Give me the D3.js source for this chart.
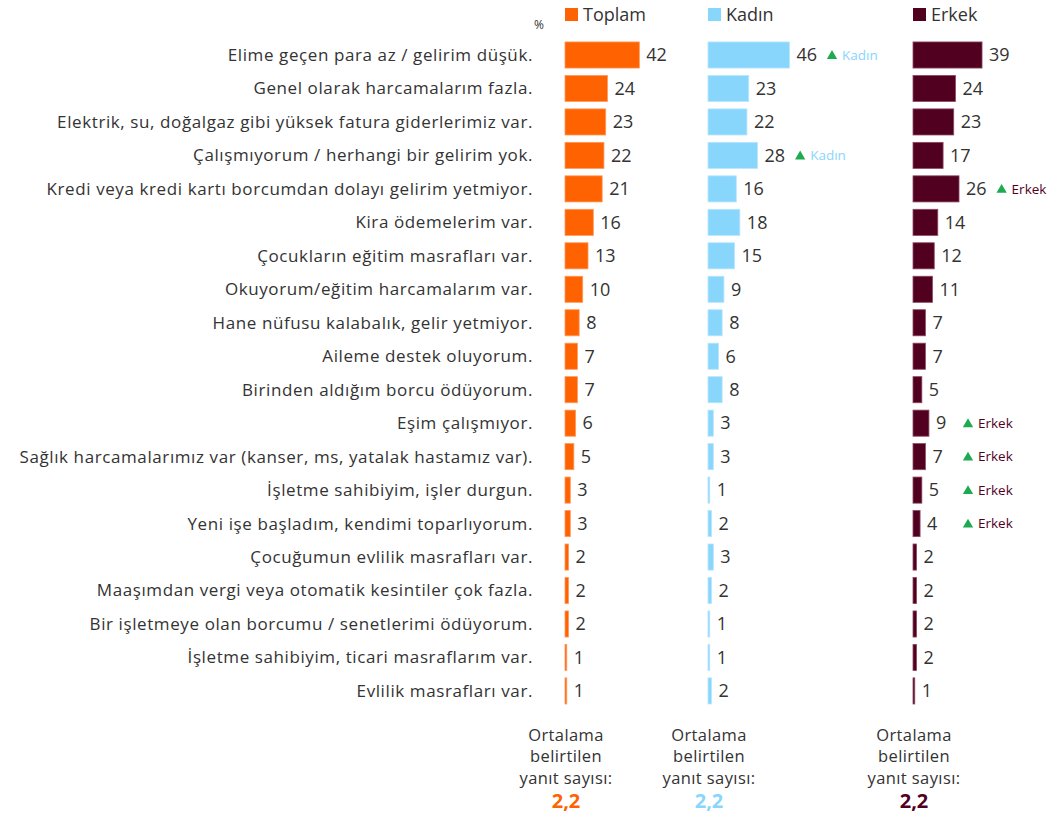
<!DOCTYPE html>
<html>
<head>
<meta charset="utf-8">
<script src="https://cdn.jsdelivr.net/npm/d3@7"></script>
<style>
  html, body { margin: 0; padding: 0; background: #fff; }
  svg { display: block; }
  text { font-family: "Open Sans", "Noto Sans", sans-serif; fill: #333; }
</style>
</head>
<body>
<svg id="chart" width="1059" height="816"></svg>
<script>
const categories = [
  "Elime geçen para az / gelirim düşük.",
  "Genel olarak harcamalarım fazla.",
  "Elektrik, su, doğalgaz gibi yüksek fatura giderlerimiz var.",
  "Çalışmıyorum / herhangi bir gelirim yok.",
  "Kredi veya kredi kartı borcumdan dolayı gelirim yetmiyor.",
  "Kira ödemelerim var.",
  "Çocukların eğitim masrafları var.",
  "Okuyorum/eğitim harcamalarım var.",
  "Hane nüfusu kalabalık, gelir yetmiyor.",
  "Aileme destek oluyorum.",
  "Birinden aldığım borcu ödüyorum.",
  "Eşim çalışmıyor.",
  "Sağlık harcamalarımız var (kanser, ms, yatalak hastamız var).",
  "İşletme sahibiyim, işler durgun.",
  "Yeni işe başladım, kendimi toparlıyorum.",
  "Çocuğumun evlilik masrafları var.",
  "Maaşımdan vergi veya otomatik kesintiler çok fazla.",
  "Bir işletmeye olan borcumu / senetlerimi ödüyorum.",
  "İşletme sahibiyim, ticari masraflarım var.",
  "Evlilik masrafları var."
];
const seriesNames = ["Toplam", "Kadın", "Erkek"];
const toplam = [42,24,23,22,21,16,13,10,8,7,7,6,5,3,3,2,2,2,1,1];
const kadin  = [46,23,22,28,16,18,15,9,8,6,8,3,3,1,2,3,2,1,1,2];
const erkek  = [39,24,23,17,26,14,12,11,7,7,5,9,7,5,4,2,2,2,2,1];
// significance flags: index of category flagged per series
const kadinFlags = [0, 3];
const erkekFlags = [4, 11, 12, 13, 14];
const averages = ["2,2", "2,2", "2,2"];
const footerLines = ["Ortalama", "belirtilen", "yanıt sayısı:"];
const unitLabel = "%";

const colors = ["#FF6200", "#89D6FD", "#52001F"];
const strokes = ["#FF9A5C", "#B8E6FE", "#8A4A62"];
const annotColors = ["#FF6200", "#89D6FD", "#52001F"];
const triColor = "#1EAA50";

const svg = d3.select("#chart");
const step = 33.47;
const y = d3.scaleBand()
  .domain(categories)
  .range([55 - step/2, 55 - step/2 + step*categories.length])
  .paddingInner(0.22).paddingOuter(0.11);

const colStarts = [565, 708, 913];
const pxPerUnit = 1.77;
const xScales = colStarts.map(s => d3.scaleLinear().domain([0, 50]).range([s, s + 50*pxPerUnit]));
const data = [toplam, kadin, erkek];
const flags = [[], kadinFlags, erkekFlags];

// category labels
svg.append("g").selectAll("text").data(categories).join("text")
  .attr("x", 533)
  .attr("y", d => y(d) + y.bandwidth()/2)
  .attr("dy", "0.35em")
  .attr("text-anchor", "end")
  .style("font-size", "17px")
  .style("letter-spacing", "0.6px")
  .text(d => d);

// % unit label
svg.append("text").attr("x", 539).attr("y", 29).attr("text-anchor", "middle")
  .style("font-size", "12px").text(unitLabel);

seriesNames.forEach((name, si) => {
  const x = xScales[si];
  const g = svg.append("g");
  // legend
  g.append("rect").attr("x", x(0)).attr("y", 8).attr("width", 13).attr("height", 13)
    .attr("fill", colors[si]);
  g.append("text").attr("x", x(0) + 18).attr("y", 15).attr("dy", "0.35em")
    .style("font-size", "18px").text(name);

  const vals = data[si];
  // bars
  g.selectAll("rect.bar").data(vals).join("rect")
    .attr("class", "bar")
    .attr("x", x(0))
    .attr("y", (d, i) => y(categories[i]))
    .attr("width", d => x(d) - x(0))
    .attr("height", y.bandwidth())
    .attr("fill", colors[si])
    .attr("stroke", strokes[si])
    .attr("stroke-width", 0.8);
  // values
  const labels = g.selectAll("text.val").data(vals).join("text")
    .attr("class", "val")
    .attr("x", d => x(d) + 7)
    .attr("y", (d, i) => y(categories[i]) + y.bandwidth()/2)
    .attr("dy", "0.35em")
    .style("font-size", "18px")
    .text(d => d);
  // significance annotations
  flags[si].forEach(idx => {
    const d = vals[idx];
    const node = labels.nodes()[idx];
    const lw = node.getComputedTextLength();
    let ax = x(d) + 7 + lw + 10;
    if (idx > 4) ax = Math.max(ax, x(0) + 50);
    const cy = y(categories[idx]) + y.bandwidth()/2;
    g.append("path")
      .attr("d", d3.symbol().type(d3.symbolTriangle).size(46)())
      .attr("transform", `translate(${ax + 5},${cy + 1})`)
      .attr("fill", triColor);
    g.append("text").attr("x", ax + 15).attr("y", cy).attr("dy", "0.35em")
      .style("font-size", "13.5px").style("fill", annotColors[si])
      .text(name);
  });
  // footer
  const cx = x(0) + 1;
  footerLines.forEach((t, li) => {
    g.append("text").attr("x", cx).attr("y", 735 + li*21.5).attr("dy", "0.35em")
      .attr("text-anchor", "middle").style("font-size", "16.5px")
      .style("letter-spacing", "0.4px").text(t);
  });
  g.append("text").attr("x", cx).attr("y", 801).attr("dy", "0.35em")
    .attr("text-anchor", "middle").style("font-size", "20px").style("font-weight", "bold")
    .style("fill", colors[si]).text(averages[si]);
});
</script>
</body>
</html>
